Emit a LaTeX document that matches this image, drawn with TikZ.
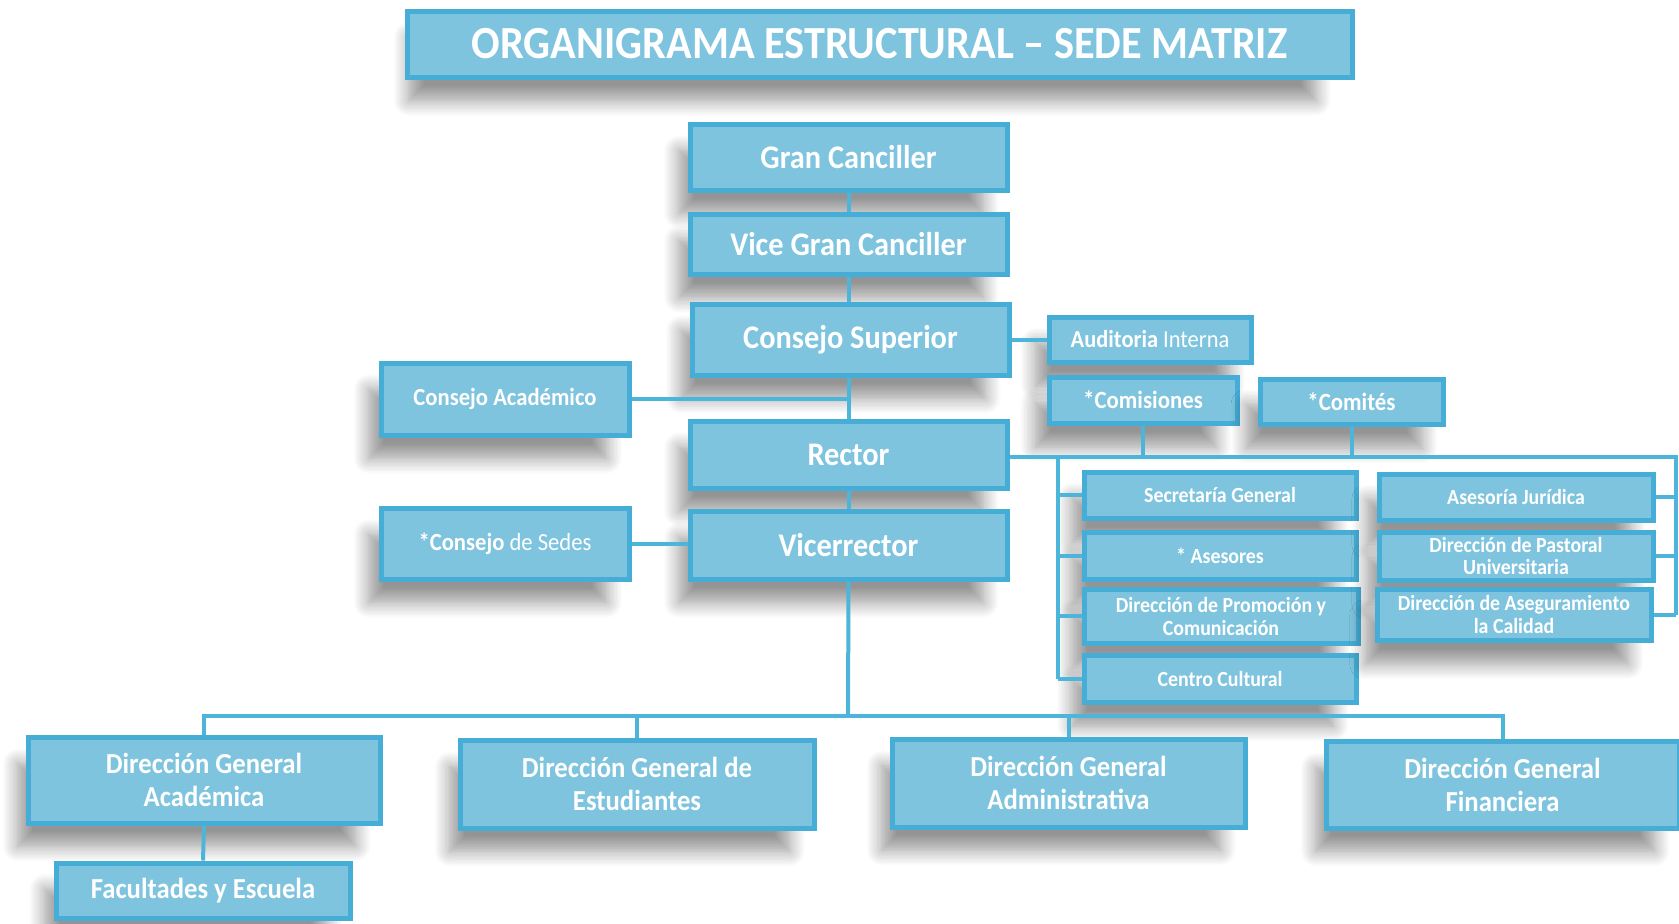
\documentclass[tikz,border=0pt]{standalone}
\usepackage{fontspec}
\setmainfont[FakeStretch=0.92]{Carlito}
\usetikzlibrary{positioning,shadows.blur}
\definecolor{boxfill}{HTML}{7EC4DF}
\definecolor{boxedge}{HTML}{45ADD6}
\definecolor{linkblue}{HTML}{4DB4DA}
\tikzset{
  orgbox/.style={draw=boxedge,fill=boxfill,line width=2.5pt,text=white,font=\bfseries,
    align=center,inner sep=0pt,
    blur shadow={shadow xshift=-9pt,shadow yshift=-13pt,shadow scale=0.96,shadow blur steps=12,
      shadow blur radius=8pt,shadow opacity=42}},
  link/.style={draw=linkblue,line width=2pt},
}
\begin{document}
\begin{tikzpicture}[x=0.5pt,y=-0.5pt]
\useasboundingbox (0,0) rectangle (1679,923);
\node[orgbox,minimum width=472.5pt,minimum height=33pt,font=\bfseries\fontsize{23}{26}\selectfont] (title) at (879.5,44) {ORGANIGRAMA ESTRUCTURAL – SEDE MATRIZ};
\node[orgbox,minimum width=158.5pt,minimum height=33pt,font=\bfseries\fontsize{16.5}{18}\selectfont] (gran) at (848.5,157) {Gran Canciller};
\node[orgbox,minimum width=158.5pt,minimum height=30pt,font=\bfseries\fontsize{16.5}{18}\selectfont] (vice) at (848.5,244) {Vice Gran Canciller};
\node[orgbox,minimum width=158.5pt,minimum height=35.5pt,font=\bfseries\fontsize{16.5}{18}\selectfont] (csup) at (850.5,339.5) {Consejo Superior};
\node[orgbox,minimum width=158.5pt,minimum height=33.5pt,font=\bfseries\fontsize{16.5}{18}\selectfont] (rector) at (848.5,454.5) {Rector};
\node[orgbox,minimum width=158.5pt,minimum height=34pt,font=\bfseries\fontsize{16.5}{18}\selectfont] (vicer) at (848.5,545) {Vicerrector};
\node[orgbox,minimum width=124pt,minimum height=36pt,font=\bfseries\fontsize{12.3}{14}\selectfont] (cacad) at (505,399) {Consejo Académico};
\node[orgbox,minimum width=124pt,minimum height=35.5pt,font=\bfseries\fontsize{12.3}{14}\selectfont] (csedes) at (505,543.5) {*Consejo \mdseries de Sedes};
\node[orgbox,minimum width=101pt,minimum height=22.5pt,font=\bfseries\fontsize{12.2}{14}\selectfont] (audit) at (1150,339.5) {Auditoria \mdseries Interna};
\node[orgbox,minimum width=94pt,minimum height=23pt,font=\bfseries\fontsize{12.4}{14}\selectfont] (comis) at (1143,400) {*Comisiones};
\node[orgbox,minimum width=91.5pt,minimum height=22.5pt,font=\bfseries\fontsize{12.4}{14}\selectfont] (comit) at (1351.5,401.5) {*Comités};
\node[orgbox,minimum width=136pt,minimum height=23pt,font=\bfseries\fontsize{10.8}{11.5}\selectfont] (secgen) at (1220,495) {Secretaría General};
\node[orgbox,minimum width=136pt,minimum height=23.5pt,font=\bfseries\fontsize{10.8}{11.5}\selectfont] (aseso) at (1220,555.5) {* Asesores};
\node[orgbox,minimum width=137pt,minimum height=27pt,font=\bfseries\fontsize{10.8}{11.5}\selectfont] (promo) at (1221,616) {Dirección de Promoción y\\Comunicación};
\node[orgbox,minimum width=136pt,minimum height=23.5pt,font=\bfseries\fontsize{10.8}{11.5}\selectfont] (centro) at (1220,678.5) {Centro Cultural};
\node[orgbox,minimum width=137pt,minimum height=23pt,font=\bfseries\fontsize{10.8}{11.5}\selectfont] (jurid) at (1516,497) {Asesoría Jurídica};
\node[orgbox,minimum width=137pt,minimum height=24pt,font=\bfseries\fontsize{10.8}{11}\selectfont] (pastoral) at (1516,556) {Dirección de Pastoral\\Universitaria};
\node[orgbox,minimum width=137pt,minimum height=25.5pt,font=\bfseries\fontsize{10.8}{11.5}\selectfont] (asegur) at (1514,614.5) {Dirección de Aseguramiento\\la Calidad};
\node[orgbox,minimum width=176pt,minimum height=43pt,font=\bfseries\fontsize{14.5}{16.5}\selectfont] (dga) at (204,780) {Dirección General\\Académica};
\node[orgbox,minimum width=177pt,minimum height=44pt,font=\bfseries\fontsize{14.5}{16.5}\selectfont] (dge) at (637,784) {Dirección General de\\Estudiantes};
\node[orgbox,minimum width=176.5pt,minimum height=44pt,font=\bfseries\fontsize{14.5}{16.5}\selectfont] (dgad) at (1068.5,783) {Dirección General\\Administrativa};
\node[orgbox,minimum width=176.5pt,minimum height=43.5pt,font=\bfseries\fontsize{14.5}{16.5}\selectfont] (dgf) at (1502.5,784.5) {Dirección General\\Financiera};
\node[orgbox,minimum width=147pt,minimum height=27.5pt,font=\bfseries\fontsize{14.5}{16}\selectfont] (facul) at (203,890.5) {Facultades y Escuela};
\coordinate (busR) at (1676,457);
\coordinate (busL) at (1058,457);
\coordinate (busB) at (848,716);
\draw[link] (gran.south) -- (vice.north);
\draw[link] (vice.south) -- (vice.south |- csup.north);
\draw[link] (csup.south -| rector.north) -- (rector.north);
\draw[link] (rector.south) -- (vicer.north);
\draw[link] (cacad.east) -- (cacad.east -| rector.north);
\draw[link] (csedes.east) -- (csedes.east -| vicer.west);
\draw[link] (csup.east) -- (audit.west);
\draw[link] (rector.east |- busR) -- (busR) -- (busR |- asegur.east);
\draw[link] (comis.south) -- (comis.south |- busR);
\draw[link] (comit.south) -- (comit.south |- busR);
\draw[link] (busL) -- (busL |- centro.west);
\foreach \n in {secgen,aseso,promo,centro} \draw[link] (\n.west -| busL) -- (\n.west);
\foreach \n in {jurid,pastoral,asegur} \draw[link] (\n.east) -- (\n.east -| busR);
\draw[link] (vicer.south) -- (busB);
\draw[link] (dga.north) -- (dga.north |- busB) -- (dgf.north |- busB) -- (dgf.north);
\draw[link] (dge.north |- busB) -- (dge.north);
\draw[link] (dgad.north |- busB) -- (dgad.north);
\draw[link] (dga.south) -- (facul.north);
\end{tikzpicture}
\end{document}
